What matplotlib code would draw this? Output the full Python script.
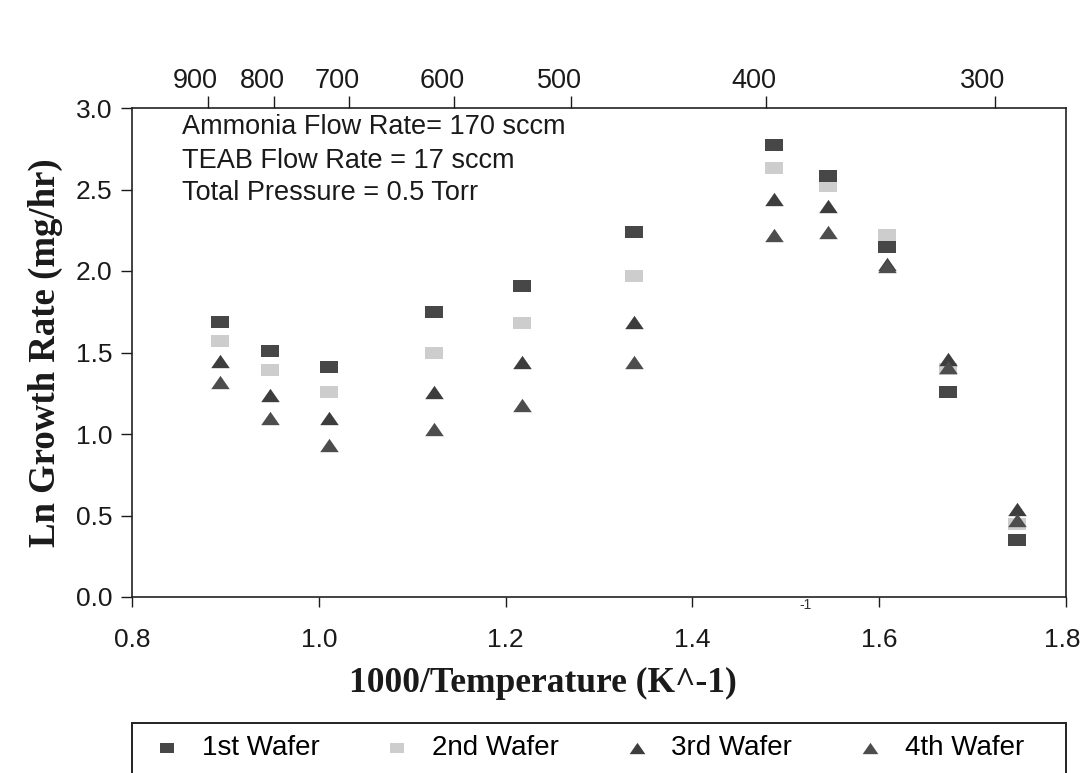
import matplotlib
matplotlib.use("Agg")
import matplotlib.pyplot as plt
import matplotlib.transforms as mtransforms
from matplotlib.patches import Rectangle

# 1000/T positions of the eleven runs
inv_temp = [0.894, 0.948, 1.011, 1.123, 1.218, 1.338, 1.487, 1.545, 1.608, 1.674, 1.748]
wafer1 = [1.69, 1.51, 1.41, 1.75, 1.91, 2.24, 2.77, 2.58, 2.15, 1.26, 0.35]
wafer2 = [1.57, 1.39, 1.26, 1.50, 1.68, 1.97, 2.63, 2.52, 2.22, 1.40, 0.45]
wafer3 = [1.45, 1.24, 1.10, 1.26, 1.44, 1.69, 2.44, 2.40, 2.04, 1.46, 0.54]
wafer4 = [1.32, 1.10, 0.93, 1.03, 1.18, 1.44, 2.22, 2.24, 2.03, 1.41, 0.47]
labels = ["1st Wafer", "2nd Wafer", "3rd Wafer", "4th Wafer"]

# top axis (deg C)
top_pos = [0.881, 0.952, 1.032, 1.145, 1.270, 1.479, 1.724]
top_lab = ["900", "800", "700", "600", "500", "400", "300"]

notes = ["Ammonia Flow Rate= 170 sccm", "TEAB Flow Rate = 17 sccm", "Total Pressure = 0.5 Torr"]

SANS = ["Liberation Sans", "DejaVu Sans"]
SERIF = ["Liberation Serif", "DejaVu Serif"]
plt.rcParams["font.family"] = SANS
INK = "#1a1a1a"

rect = [(-1, -0.64), (1, -0.64), (1, 0.64), (-1, 0.64), (-1, -0.64)]
tri = [(-1, -0.72), (1, -0.72), (0, 0.72), (-1, -0.72)]

fig = plt.figure(figsize=(10.83, 7.73), dpi=100)
ax = fig.add_axes([132 / 1083, 1 - 597 / 773, (1066 - 132) / 1083, (597 - 108) / 773])

sz = 155
ax.scatter(inv_temp, wafer2, marker=rect, s=sz, color="#cdcdcd", linewidths=0,
           label=labels[1], zorder=3)
ax.scatter(inv_temp, wafer1, marker=rect, s=sz, color="#474747", linewidths=0,
           label=labels[0], zorder=4)
ax.scatter(inv_temp, wafer3, marker=tri, s=sz * 1.15, color="#3d3d3d", linewidths=0,
           label=labels[2], zorder=5)
ax.scatter(inv_temp, wafer4, marker=tri, s=sz * 1.15, color="#4d4d4d", linewidths=0,
           label=labels[3], zorder=6)

ax.set_xlim(0.8, 1.8)
ax.set_ylim(0, 3.0)
ax.set_xticks([0.8, 1.0, 1.2, 1.4, 1.6, 1.8])
ax.set_xticklabels(["0.8", "1.0", "1.2", "1.4", "1.6", "1.8"])
ax.set_yticks([0, 0.5, 1.0, 1.5, 2.0, 2.5, 3.0])
ax.set_yticklabels(["0.0", "0.5", "1.0", "1.5", "2.0", "2.5", "3.0"])
ax.tick_params(axis="x", direction="out", length=7, width=1, pad=15, labelsize=19, colors=INK)
ax.tick_params(axis="y", direction="out", length=8, width=1, pad=6, labelsize=19, colors=INK)
for s in ax.spines.values():
    s.set_linewidth(1.2)
    s.set_color("#222222")
last = ax.get_xticklabels()[-1]
last.set_transform(last.get_transform() + mtransforms.ScaledTranslation(-4 / 100, 0, fig.dpi_scale_trans))

ax2 = ax.twiny()
ax2.set_xlim(ax.get_xlim())
ax2.set_xticks(top_pos)
ax2.set_xticklabels(top_lab)
ax2.tick_params(axis="x", direction="out", length=9, width=1, pad=1, labelsize=19.5, colors=INK)
shift = mtransforms.ScaledTranslation(-12 / 100, 0, fig.dpi_scale_trans)
for lab in ax2.get_xticklabels():
    lab.set_transform(lab.get_transform() + shift)
for s in ax2.spines.values():
    s.set_visible(False)

ax.set_xlabel("1000/Temperature (K^-1)", family=SERIF, fontsize=25.5, fontweight="bold", color=INK)
ax.xaxis.set_label_coords((543 - 132) / 934, -(683 - 597) / 489)
ax.xaxis.label.set_va("center")
ax.set_ylabel("Ln Growth Rate (mg/hr)", family=SERIF, fontsize=26.5, fontweight="bold",
              labelpad=9, color=INK)

for note, ypix in zip(notes, [127, 161, 193]):
    ax.text((182 - 132) / 934, (597 - ypix) / 489, note, transform=ax.transAxes, ha="left",
            va="center", fontsize=19.5, color=INK)
fig.text(805 / 1083, 1 - 605 / 773, "-1", fontsize=10, ha="center", va="center", color="#333333")

# legend row under the plot, in an open-bottomed box like the scan
handles, labs = ax.get_legend_handles_labels()
order = [1, 0, 2, 3]
leg = fig.legend([handles[i] for i in order], [labs[i] for i in order], ncol=4,
                 loc="center left", bbox_to_anchor=(153 / 1083, 1 - 748 / 773),
                 fontsize=20, markerscale=0.85, frameon=False, borderaxespad=0, borderpad=0,
                 handlelength=1.0, handletextpad=0.75, columnspacing=2.3)
fig.patches.append(Rectangle((132 / 1083, -0.05), (1066 - 132) / 1083, 0.05 + (773 - 723) / 773,
                             transform=fig.transFigure, fill=False, edgecolor="#222222",
                             linewidth=1.4))

fig.savefig("out.png", dpi=100)
